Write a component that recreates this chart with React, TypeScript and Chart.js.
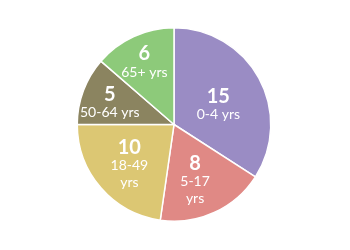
import React, { useEffect, useRef } from "react";
import { Chart, registerables } from "chart.js";

Chart.register(...registerables);

const categories = ["0-4 yrs", "5-17 yrs", "18-49 yrs", "50-64 yrs", "65+ yrs"];
const categoryLines = [["0-4 yrs"], ["5-17", "yrs"], ["18-49", "yrs"], ["50-64 yrs"], ["65+ yrs"]];
const values = [15, 8, 10, 5, 6];
const colors = ["#9a8cc4", "#e08985", "#dcc773", "#8b8460", "#8dca7a"];
const labelRadius = [0.5, 0.62, 0.62, 0.7, 0.71];
const labelAngleShift = [5, 4, -1, -2, -1];

const sliceLabels = {
  id: "sliceLabels",
  afterDatasetsDraw(chart: any) {
    const ctx = chart.ctx;
    const meta = chart.getDatasetMeta(0);
    ctx.save();
    ctx.fillStyle = "#ffffff";
    ctx.textAlign = "center";
    ctx.textBaseline = "middle";
    meta.data.forEach((arc: any, i: number) => {
      const mid = (arc.startAngle + arc.endAngle) / 2 + (labelAngleShift[i] * Math.PI) / 180;
      const r = arc.outerRadius * labelRadius[i];
      const cx = arc.x + Math.cos(mid) * r;
      const cy = arc.y + Math.sin(mid) * r;
      const lines = categoryLines[i];
      const gap = 19;
      const lineH = 17;
      const span = gap + (lines.length - 1) * lineH;
      let y = cy - span / 2;
      ctx.font = "bold 20px Lato";
      ctx.fillText(String(values[i]), cx, y + 1);
      y += gap;
      ctx.font = "14px Lato";
      lines.forEach((l) => {
        ctx.fillText(l, cx, y);
        y += lineH;
      });
    });
    ctx.restore();
  },
};

export default function App() {
  const ref = useRef<HTMLCanvasElement>(null);
  useEffect(() => {
    const chart = new Chart(ref.current!, {
      type: "pie",
      data: {
        labels: categories,
        datasets: [
          {
            data: values,
            backgroundColor: colors,
            borderColor: "#ffffff",
            borderWidth: 1.5,
          },
        ],
      },
      options: {
        animation: false,
        responsive: false,
        maintainAspectRatio: false,
        layout: { padding: { top: 27, bottom: 28, left: 0, right: 2 } },
        plugins: { legend: { display: false }, tooltip: { enabled: false } },
      },
      plugins: [sliceLabels],
    });
    return () => chart.destroy();
  }, []);
  return (
    <div style={{ position: "fixed", left: 0, top: 0, width: 350, height: 250, background: "#fff" }}>
      <canvas ref={ref} width={350} height={250} style={{ width: 350, height: 250 }} />
    </div>
  );
}
